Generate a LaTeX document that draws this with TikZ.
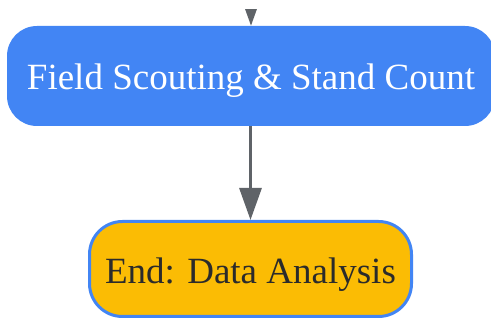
\documentclass[tikz,border=0pt]{standalone}
\usepackage{fontspec}
\setmainfont{Liberation Serif}
\usetikzlibrary{arrows.meta}
\definecolor{gblue}{HTML}{4285F4}
\definecolor{gyellow}{HTML}{FBBC04}
\definecolor{ggray}{HTML}{5F6368}
\definecolor{gtext}{HTML}{2B2B2B}
\tikzset{
  boxfont/.style={font=\fontsize{37}{40}\selectfont, text height=28pt, text depth=0pt},
  procbox/.style={boxfont, fill=gblue, text=white, rounded corners=30pt, minimum width=488pt, minimum height=100pt, inner sep=0pt},
  endbox/.style={boxfont, fill=gyellow, draw=gblue, line width=3pt, text=gtext, rounded corners=33pt, minimum width=322pt, minimum height=95pt, inner sep=0pt, text height=29.5pt},
  flow/.style={draw=ggray, line width=3pt, -{Triangle[length=32pt,width=22pt]}, color=ggray}
}
\begin{document}
\begin{tikzpicture}[x=1pt,y=-1pt]
\useasboundingbox (0,0) rectangle (491,320);
\begin{scope}
\clip (0,0) rectangle (491,320);
\node[procbox] (scout) at (251,76) {Field Scouting \& Stand Count};
\node[endbox] (end) at (250.5,269) {End: Data Analysis};
\draw[flow] (scout.south -| end.north) -- (end.north);
\end{scope}
\begin{scope}
\clip (0,10) rectangle (491,320);
\coordinate (above) at (251,-40);
\draw[flow] (above) -- (scout.north);
\end{scope}
\end{tikzpicture}
\end{document}
